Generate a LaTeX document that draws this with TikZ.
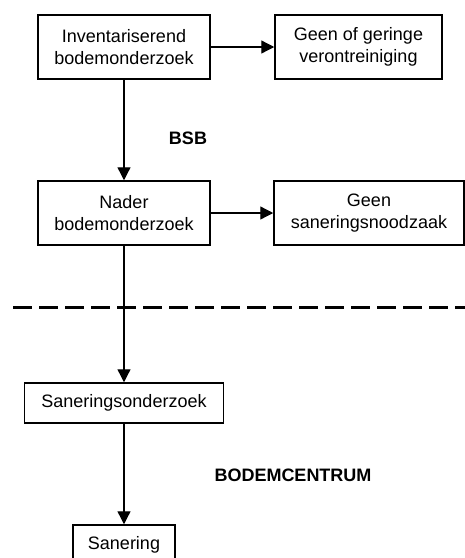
\documentclass[tikz,border=0pt]{standalone}
\usepackage{fontspec}
\setmainfont{Liberation Sans}
\usetikzlibrary{arrows.meta}

\tikzset{
  blok/.style={draw, line width=1.5pt, align=center, inner sep=0pt,
    font=\fontsize{18}{22.5}\selectfont},
  pijl/.style={line width=1.3pt, -{Triangle[length=13pt,width=13pt]}},
  kop/.style={font=\fontsize{18}{20}\selectfont\bfseries, inner sep=0pt},
  scheiding/.style={line width=3pt, dash pattern=on 19pt off 7pt}
}

\begin{document}
\begin{tikzpicture}[x=1pt,y=-1pt]
\path[use as bounding box, clip] (0,0) rectangle (465,558);

%BSB
\node[blok, minimum width=172pt, minimum height=64pt] (inv) at (124,47) {Inventariserend\\bodemonderzoek};
\node[blok, minimum width=167pt, minimum height=64pt] (gering) at (358.5,47) {Geen of geringe\\verontreiniging};
\node[blok, minimum width=172pt, minimum height=64pt] (nader) at (124,213) {Nader\\bodemonderzoek};
\node[blok, minimum width=190pt, minimum height=64pt] (geen) at (369,213) {Geen\\saneringsnoodzaak};
\node[kop] (bsb) at (188,138) {BSB};

%Scheiding
\draw[scheiding] (13,307) -- (465,307);

%Bodemcentrum
\node[blok, minimum width=199pt, minimum height=40pt] (sanond) at (124,403) {Saneringsonderzoek};
\node[blok, minimum width=102pt, minimum height=40pt] (san) at (124,545) {Sanering};
\node[kop] (bc) at (293,475) {BODEMCENTRUM};

%Pijlen
\draw[pijl] (inv) -- (gering);
\draw[pijl] (nader) -- (geen);
\draw[pijl] (inv) -- (nader);
\draw[pijl] (nader) -- (sanond);
\draw[pijl] (sanond) -- (san);

\end{tikzpicture}
\end{document}
